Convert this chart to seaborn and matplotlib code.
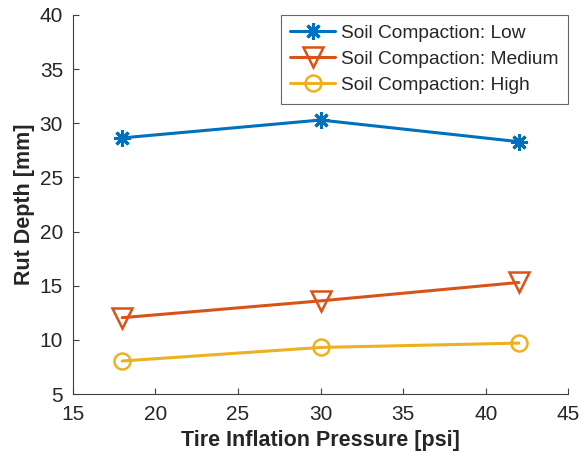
import matplotlib
matplotlib.use("Agg")
import matplotlib.pyplot as plt
import seaborn as sns
import pandas as pd

# Measured rut depth for three soil compaction levels
pressure_psi = [18, 30, 42]
rut_low = [28.65, 30.3, 28.3]
rut_medium = [12.05, 13.6, 15.3]
rut_high = [8.05, 9.3, 9.7]
series_names = ["Soil Compaction: Low", "Soil Compaction: Medium", "Soil Compaction: High"]

sns.set_theme(style="white")
plt.rcParams["font.family"] = ["Liberation Sans", "DejaVu Sans"]

colors = ["#0072BD", "#D95319", "#EDB120"]
markers = [(8, 2, 0), "v", "o"]
msizes = [12, 14, 11.5]
mews = [2.2, 1.8, 1.8]

fig = plt.figure(figsize=(5.82, 4.61), dpi=100)
ax = fig.add_axes([0.125, 0.1453, 0.8515, 0.8222])

for name, vals, c, m, ms, mw in zip(series_names, [rut_low, rut_medium, rut_high],
                                    colors, markers, msizes, mews):
    df = pd.DataFrame({"Pressure": pressure_psi, "Rut": vals})
    sns.lineplot(data=df, x="Pressure", y="Rut", ax=ax, color=c, marker=m,
                 markersize=ms, mfc="none", mec=c, mew=mw, linewidth=2.2,
                 label=name)

ax.set_xlim(15, 45)
ax.set_ylim(5, 40)
ax.set_xticks(range(15, 46, 5))
ax.set_yticks(range(5, 41, 5))

for side in ["top", "right"]:
    ax.spines[side].set_visible(False)
for side in ["left", "bottom"]:
    ax.spines[side].set_color("#404040")
    ax.spines[side].set_linewidth(0.8)

ax.tick_params(direction="in", length=4, width=0.8, colors="#404040",
               labelsize=15, labelcolor="#262626", left=True, bottom=True)
ax.tick_params(axis="y", pad=7)
ax.tick_params(axis="x", pad=8)

ax.set_xlabel("Tire Inflation Pressure [psi]", fontsize=15.5, fontweight="bold",
              color="#262626", labelpad=4)
ax.set_ylabel("Rut Depth [mm]", fontsize=15.5, fontweight="bold",
              color="#262626", labelpad=3)

leg = ax.legend(loc="upper right", borderaxespad=0.0, fontsize=13.8,
                fancybox=False, frameon=True, handlelength=2.35,
                handletextpad=0.3, borderpad=0.5, labelspacing=0.45)
leg.get_frame().set_edgecolor("#404040")
leg.get_frame().set_linewidth(0.8)

fig.savefig("out.png", dpi=100)
